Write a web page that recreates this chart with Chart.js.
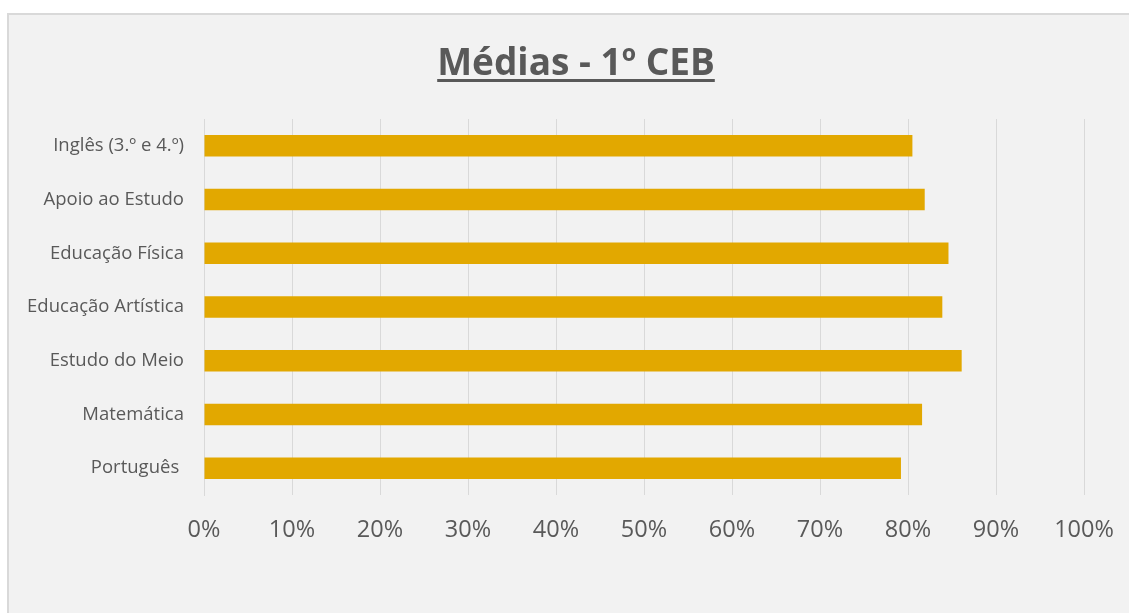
<!DOCTYPE html>
<html>
<head>
<meta charset="utf-8">
<script src="https://cdn.jsdelivr.net/npm/chart.js@4"></script>
<style>
  html, body { margin:0; padding:0; background:#ffffff; width:1129px; height:613px; overflow:hidden; }
  #frame { position:absolute; left:7px; top:13px; width:1140px; height:620px; background:#f2f2f2; border:2px solid #d9d9d9; box-sizing:border-box; }
  #wrap { position:absolute; left:0; top:0; width:1129px; height:613px; }
</style>
</head>
<body>
<div id="frame"></div>
<div id="wrap"><canvas id="c" width="1129" height="613"></canvas></div>
<script>
const chartTitle = "Médias - 1º CEB";
const categories = ["Inglês (3.º e 4.º)", "Apoio ao Estudo", "Educação Física", "Educação Artística", "Estudo do Meio", "Matemática", "Português "];
const values = [80.5, 81.9, 84.6, 83.9, 86.1, 81.6, 79.2];
const tickValues = [0, 10, 20, 30, 40, 50, 60, 70, 80, 90, 100];

const titleFont = { family: 'Open Sans', size: 37, weight: 'bold' };

const titlePlugin = {
  id: 'underlinedTitle',
  afterDraw(chart) {
    const ctx = chart.ctx;
    ctx.save();
    ctx.font = Chart.helpers.toFont(titleFont).string;
    ctx.fillStyle = '#595959';
    ctx.textAlign = 'center';
    ctx.textBaseline = 'alphabetic';
    const cx = 576, base = 75;
    ctx.fillText(chartTitle, cx, base);
    const w = ctx.measureText(chartTitle).width;
    ctx.strokeStyle = '#595959';
    ctx.lineWidth = 3;
    ctx.beginPath();
    ctx.moveTo(cx - w / 2, 80.5);
    ctx.lineTo(cx + w / 2, 80.5);
    ctx.stroke();
    ctx.restore();
  }
};

new Chart(document.getElementById('c'), {
  type: 'bar',
  data: {
    labels: categories,
    datasets: [{
      data: values,
      backgroundColor: '#E2A800',
      borderWidth: 0,
      barPercentage: 0.4,
      categoryPercentage: 1.0
    }]
  },
  options: {
    indexAxis: 'y',
    responsive: false,
    animation: false,
    layout: { padding: { left: 0, right: 45, top: 119, bottom: 0 } },
    plugins: {
      legend: { display: false },
      tooltip: { enabled: false },
      title: { display: false }
    },
    scales: {
      x: {
        min: 0, max: 100,
        afterBuildTicks(scale) { scale.ticks = tickValues.map(v => ({ value: v })); },
        ticks: {
          callback: v => v + '%',
          color: '#595959',
          font: { family: 'Open Sans', size: 23.5 },
          padding: 21,
          maxRotation: 0
        },
        grid: { color: '#d9d9d9', lineWidth: 1, drawTicks: false },
        border: { display: false },
        afterFit(scale) { scale.height = 118; scale.paddingRight = 0; scale.paddingLeft = 0; }
      },
      y: {
        ticks: {
          color: '#595959',
          font: { family: 'Open Sans', size: 18.5 },
          padding: 20
        },
        grid: { display: false, drawTicks: false },
        border: { display: true, color: '#d9d9d9', width: 1 },
        afterFit(scale) { scale.width = 204; scale.paddingTop = 0; scale.paddingBottom = 0; }
      }
    }
  },
  plugins: [titlePlugin]
});
</script>
</body>
</html>
